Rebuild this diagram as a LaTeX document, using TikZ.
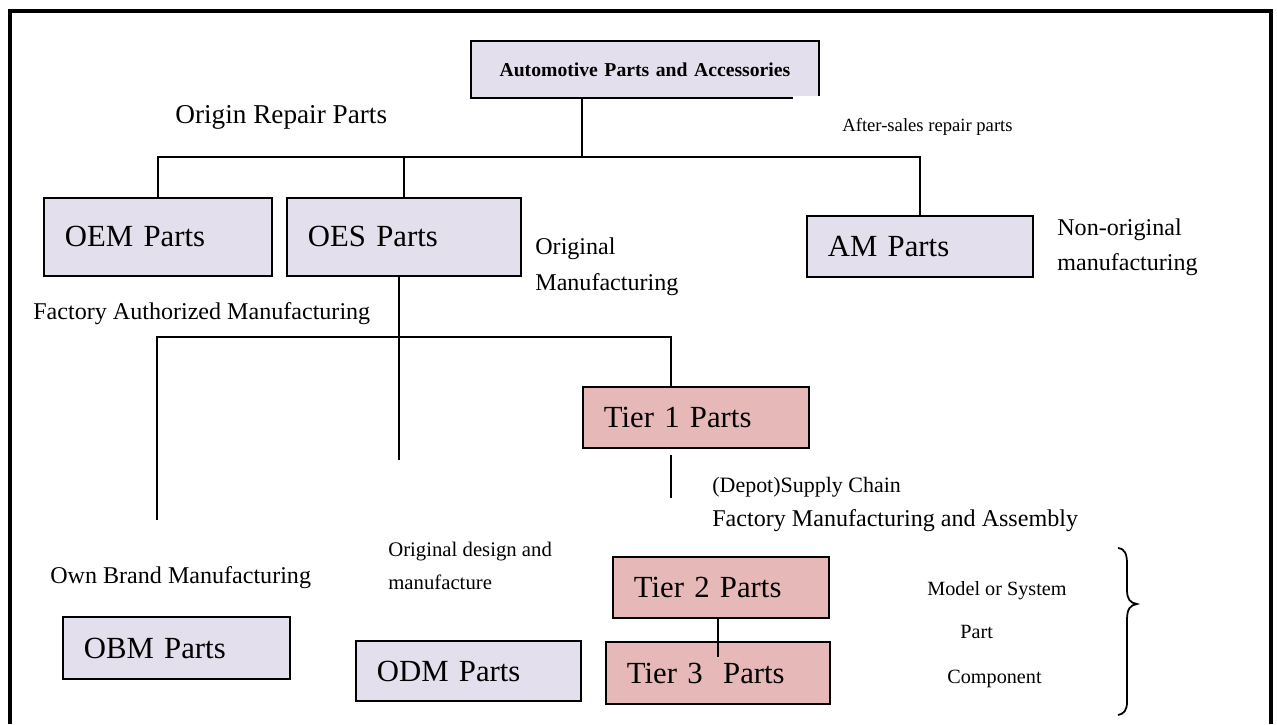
\documentclass[tikz,border=0pt]{standalone}
\usepackage{fontspec}
\setmainfont{Liberation Serif}
\usetikzlibrary{positioning}
\definecolor{lavender}{HTML}{E4DFEC}
\definecolor{rosy}{HTML}{E6B9B8}
\tikzset{
  partbox/.style={draw, line width=1.1pt, fill=lavender, anchor=north west,
    inner xsep=0.42cm, inner ysep=0pt, align=left,
    font=\fontsize{17.5}{20}\selectfont},
  tierbox/.style={partbox, fill=rosy},
  lbl/.style={anchor=base west, inner sep=0pt, font=\fontsize{#1}{16}\selectfont},
  lbl/.default=13.7,
  link/.style={line width=1.1pt}
}
\begin{document}
\begin{tikzpicture}[x=0.02cm, y=-0.02cm]
  \useasboundingbox (0,0) rectangle (1277,724);
  % Frame
  \draw[line width=2.3pt] (10,724) |- (1271,11) -- (1271,724);
  % Boxes
  \node[partbox, align=center, text width=6.12cm, minimum height=1.14cm,
    font=\bfseries\fontsize{11.2}{13}\selectfont] (top) at (470,40) {\raisebox{-2.3pt}{Automotive Parts and Accessories}};
  \node[partbox, text width=3.72cm, minimum height=1.56cm] (oem) at (43,197) {OEM Parts};
  \node[partbox, text width=3.84cm, minimum height=1.56cm] (oes) at (286,197) {OES Parts};
  \node[partbox, text width=3.68cm, minimum height=1.22cm] (am) at (806,215) {AM Parts};
  \node[tierbox, text width=3.68cm, minimum height=1.22cm] (t1) at (582,386) {Tier 1 Parts};
  \node[tierbox, text width=3.48cm, minimum height=1.22cm, inner xsep=0.42cm] (t2) at (612,556) {Tier 2 Parts};
  \node[tierbox, text width=3.64cm, minimum height=1.24cm] (t3) at (605,641) {Tier 3\ \ Parts};
  \node[partbox, text width=3.70cm, minimum height=1.24cm] (obm) at (62,616) {OBM Parts};
  \node[partbox, text width=3.66cm, minimum height=1.20cm] (odm) at (355,640) {ODM Parts};
  % Labels
  \node[fill=white, anchor=north west, inner sep=0pt, minimum width=4.5cm, minimum height=0.96cm] (asrbg) at (793,96) {};
  \node[lbl=15.5] (orp) at (175,123) {Origin Repair Parts};
  \node[lbl=10.6] (asr) at (842,131) {After-sales repair parts};
  \node[lbl] (om1) at (535,254) {Original};
  \node[lbl] (om2) at (535,290) {Manufacturing};
  \node[lbl] (nom1) at (1057,235) {Non-original};
  \node[lbl] (nom2) at (1057,270) {manufacturing};
  \node[lbl] (fam) at (33,319) {Factory Authorized Manufacturing};
  \node[lbl=12.5] (sch1) at (712,492) {(Depot)Supply Chain};
  \node[lbl] (sch2) at (712,526) {Factory Manufacturing and Assembly};
  \node[lbl=11.8] (odd1) at (388,556) {Original design and};
  \node[lbl=11.8] (odd2) at (388,589) {manufacture};
  \node[lbl] (obmt) at (50,583) {Own Brand Manufacturing};
  \node[lbl=11.5] (mos) at (927,595) {Model or System};
  \node[lbl=11.5] (prt) at (960,638) {Part};
  \node[lbl=11.5] (cmp) at (947,683) {Component};
  % First level
  \coordinate (bus) at (582,157);
  \draw[link] (top.south -| bus) -- (bus);
  \draw[link] (oem.north) |- (bus) -| (am.north);
  \draw[link] (oes.north) -- (oes.north |- bus);
  % Second level
  \coordinate (fbus) at (671,337);
  \coordinate (obmend) at (157,520);
  \coordinate (oesend) at (399,460);
  \draw[link] (obmend) |- (fbus) -- (fbus |- t1.north);
  \draw[link] (oes.south -| oesend) -- (oesend);
  % Tiers
  \coordinate (sc1) at (671,455);
  \coordinate (sc2) at (671,498);
  \draw[link] (sc1) -- (sc2);
  \coordinate (t23) at (718,657);
  \draw[link] (t2.south -| t23) -- (t23);
  % Brace
  \draw[line width=1pt] (1118,548) .. controls (1125,549) and (1127,554) .. (1127,564)
    -- (1127,590) .. controls (1127,599) and (1130,603) .. (1137,604)
    .. controls (1130,605) and (1127,609) .. (1127,620)
    -- (1127,702) .. controls (1127,710) and (1124,714) .. (1118,715);
\end{tikzpicture}
\end{document}
